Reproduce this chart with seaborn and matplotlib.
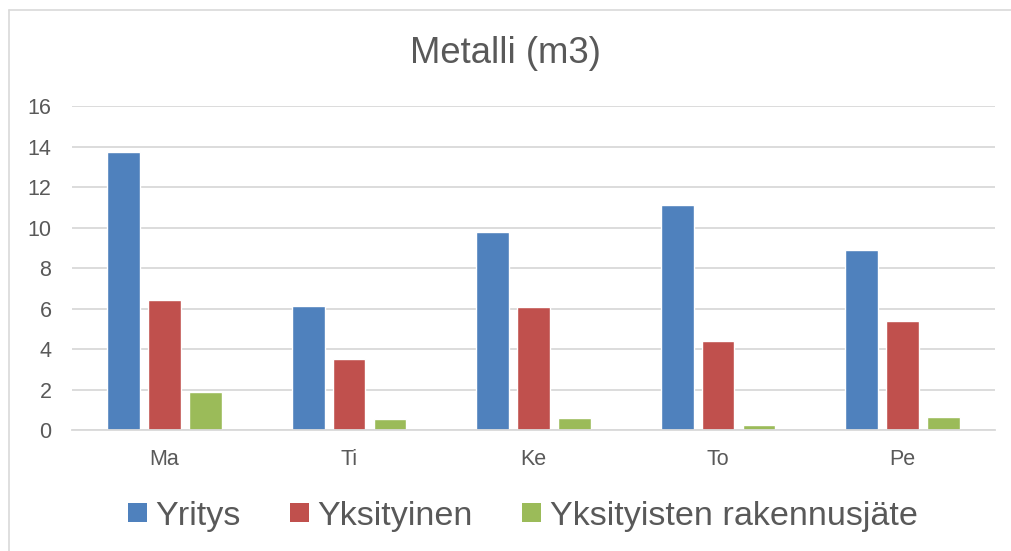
import matplotlib
matplotlib.use("Agg")
import matplotlib.pyplot as plt
from matplotlib.lines import Line2D
from matplotlib.patches import Patch
import seaborn as sns
import pandas as pd

categories = ["Ma", "Ti", "Ke", "To", "Pe"]
series_names = ["Yritys", "Yksityinen", "Yksityisten rakennusjäte"]
yritys = [13.75, 6.1, 9.8, 11.1, 8.9]
yksityinen = [6.4, 3.5, 6.05, 4.4, 5.4]
rakennusjate = [1.9, 0.55, 0.6, 0.25, 0.65]
yticks = [0, 2, 4, 6, 8, 10, 12, 14, 16]
colors = ["#4F81BD", "#C0504D", "#9BBB59"]

df = pd.DataFrame({
    "kategoria": categories * 3,
    "sarja": [s for s in series_names for _ in categories],
    "arvo": yritys + yksityinen + rakennusjate,
})

sns.set_theme(style="white")
plt.rcParams["font.family"] = ["Liberation Sans", "DejaVu Sans"]

fig = plt.figure(figsize=(10.11, 5.51), dpi=100)
ax = fig.add_axes([0.0715, 0.2196, 0.9125, 0.588])

sns.barplot(data=df, x="kategoria", y="arvo", hue="sarja", order=categories,
            hue_order=series_names, palette=colors, width=0.665, gap=0.2,
            saturation=1, legend=False, ax=ax)

ax.set_ylim(0, 16)
ax.set_xlim(-0.5, 4.5)
ax.set_yticks(yticks)
ax.set_yticklabels([str(t) for t in yticks])
ax.yaxis.grid(True, color="#D9D9D9", linewidth=1.3)
ax.set_axisbelow(True)
for side in ["top", "right", "left"]:
    ax.spines[side].set_visible(False)
ax.spines["bottom"].set_color("#D9D9D9")
ax.spines["bottom"].set_linewidth(1.3)
ax.tick_params(axis="both", length=0, colors="#595959", labelsize=15.5)
ax.tick_params(axis="y", pad=15)
ax.tick_params(axis="x", pad=14)
ax.set_xlabel("")
ax.set_ylabel("")

fig.text(0.5, 1 - 63 / 551, "Metalli (m3)", ha="center", va="baseline",
         fontsize=26.3, color="#595959")

handles = [Patch(facecolor=c, edgecolor="none") for c in colors]
fig.legend(handles, series_names, loc="center", bbox_to_anchor=(0.517, 0.063),
           ncol=3, frameon=False, handlelength=0.55, handleheight=0.5,
           handletextpad=0.25, columnspacing=1.45,
           prop={"size": 24.6}, labelcolor="#595959")

# chart frame (top and left edges)
fig.add_artist(Line2D([0.0085, 1.0], [1 - 10 / 551, 1 - 10 / 551],
                      transform=fig.transFigure, color="#D9D9D9", linewidth=1.2))
fig.add_artist(Line2D([0.0085, 0.0085], [0, 1 - 10 / 551],
                      transform=fig.transFigure, color="#D9D9D9", linewidth=1.2))

fig.savefig("out.png", dpi=100, facecolor="white")
